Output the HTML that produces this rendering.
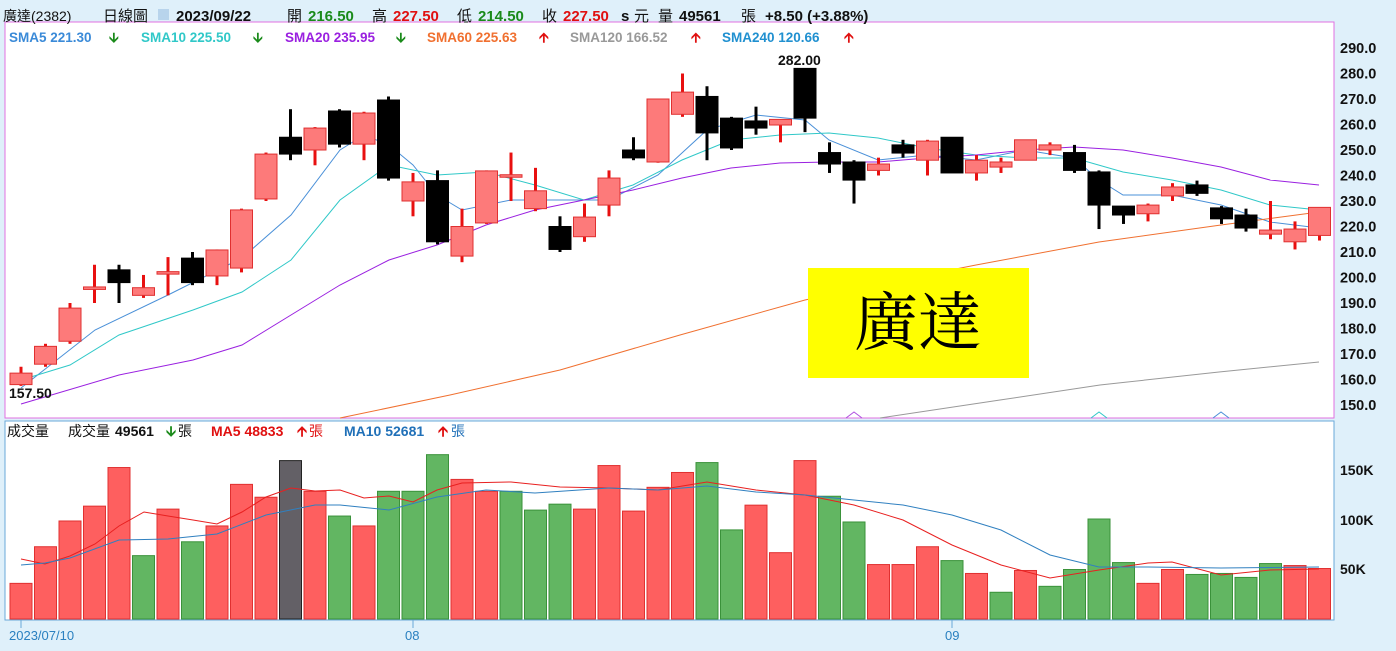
<!DOCTYPE html>
<html><head><meta charset="utf-8">
<style>
html,body{margin:0;padding:0;background:#dff0fa;width:1396px;height:651px;overflow:hidden}
svg{display:block}
text{font-family:"Liberation Sans","Noto Sans CJK TC",sans-serif}
</style></head><body>
<svg id="s" width="1396" height="651" xmlns="http://www.w3.org/2000/svg">
<rect x="0" y="0" width="1396" height="651" fill="#dff0fa"/>
<rect x="5" y="22" width="1329" height="396" fill="#fff" stroke="#e070e0" stroke-width="1"/>
<rect x="5" y="421" width="1329" height="199" fill="#fff" stroke="#6aa8d8" stroke-width="1"/>
<g font-size="15" font-weight="bold">
<text x="3" y="21" font-weight="normal" font-size="14" fill="#111">廣達(2382)</text>
<text x="103" y="21" font-weight="normal" font-size="15" fill="#111">日線圖</text>
<rect x="158" y="9" width="11" height="11" fill="#b8d4ec"/>
<text x="176" y="21" fill="#111">2023/09/22</text>
<text x="287" y="21" font-weight="normal" fill="#111">開</text><text x="308" y="21" fill="#1a8a1a">216.50</text>
<text x="372" y="21" font-weight="normal" fill="#111">高</text><text x="393" y="21" fill="#e01010">227.50</text>
<text x="457" y="21" font-weight="normal" fill="#111">低</text><text x="478" y="21" fill="#1a8a1a">214.50</text>
<text x="542" y="21" font-weight="normal" fill="#111">收</text><text x="563" y="21" fill="#e01010">227.50</text>
<text x="621" y="21" fill="#111">s</text><text x="634" y="21" font-weight="normal" fill="#111">元</text>
<text x="658" y="21" font-weight="normal" fill="#111">量</text><text x="679" y="21" fill="#111">49561</text>
<text x="741" y="21" font-weight="normal" fill="#111">張</text><text x="765" y="21" fill="#111">+8.50 (+3.88%)</text>
</g>
<g font-size="13.5" font-weight="bold">
<text x="9" y="42" fill="#3a8ad8">SMA5 221.30</text><text x="109" y="42" fill="#1a8a1a">🡫</text>
<text x="141" y="42" fill="#30c8c8">SMA10 225.50</text><text x="253" y="42" fill="#1a8a1a">🡫</text>
<text x="285" y="42" fill="#9a20e0">SMA20 235.95</text><text x="396" y="42" fill="#1a8a1a">🡫</text>
<text x="427" y="42" fill="#f07030">SMA60 225.63</text><text x="539" y="42" fill="#e01010">🡩</text>
<text x="570" y="42" fill="#999">SMA120 166.52</text><text x="691" y="42" fill="#e01010">🡩</text>
<text x="722" y="42" fill="#2090d0">SMA240 120.66</text><text x="844" y="42" fill="#e01010">🡩</text>
</g>
<g font-size="14" font-weight="bold">
<text x="7" y="436" font-weight="normal" fill="#111">成交量</text>
<text x="68" y="436" font-weight="normal" fill="#111">成交量</text><text x="115" y="436" fill="#111">49561</text><text x="166" y="436" fill="#1a8a1a">🡫</text><text x="178" y="436" font-weight="normal" fill="#111">張</text>
<text x="211" y="436" fill="#e01010">MA5 48833</text><text x="297" y="436" fill="#e01010">🡩</text><text x="309" y="436" font-weight="normal" fill="#e01010">張</text>
<text x="344" y="436" fill="#2070b8">MA10 52681</text><text x="438" y="436" fill="#e01010">🡩</text><text x="451" y="436" font-weight="normal" fill="#2070b8">張</text>
</g>
<g font-size="14.5" font-weight="bold" fill="#111" id="ax"></g>
<g font-size="14" font-weight="bold" fill="#111">
<text x="1340" y="475">150K</text><text x="1340" y="525">100K</text><text x="1340" y="574">50K</text>
</g>
<g stroke="#6aa8d8"><line x1="21" y1="620" x2="21" y2="628"/><line x1="413" y1="620" x2="413" y2="628"/><line x1="952" y1="620" x2="952" y2="628"/></g>
<g font-size="13" fill="#2a80c0"><text x="9" y="640">2023/07/10</text><text x="405" y="640">08</text><text x="945" y="640">09</text></g>
<g id="vol"></g><g id="ln"></g><g id="cdl"></g>
<rect x="808" y="268" width="221" height="110" fill="#ffff00"/>
<text x="918" y="345" text-anchor="middle" font-size="64" fill="#000" style="font-family:'Noto Serif CJK SC','Liberation Serif',serif">廣達</text>
<text x="778" y="65" font-size="14" font-weight="bold" fill="#111">282.00</text>
<text x="9" y="398" font-size="14" font-weight="bold" fill="#111">157.50</text>
</svg>
<script>
(function(){
var NS="http://www.w3.org/2000/svg";
function el(p,t,a){var e=document.createElementNS(NS,t);for(var k in a)e.setAttribute(k,a[k]);document.getElementById(p).appendChild(e);return e;}
for(var v=290;v>=150;v-=10){var t=el("ax","text",{x:1340,y:405-(v-150)*2.55+5});t.textContent=v+".0";}
function Y(p){return 405-(p-150)*2.55;}
var C=[[158,162.5,165,157.5],[166,173,174,165],[175,188,190,174],[196,196.3,205,190],[203,198,205,190],[193,196,201,192],[202,202.3,208,193],[207.6,198,210,197],[200.6,210.8,211,197],[203.7,226.5,227,202],[230.8,248.4,249,230],[255,248.4,266,246],[250,258.6,259,244],[265.3,252.3,266,251],[252.3,264.5,265,246],[269.6,239,271,238],[230,237.5,241,224],[238,214,242,213],[208.4,220,227,206],[221.4,241.8,242,221],[240,240.3,249,230],[227,234,243,226],[220,211,224,210],[216,223.7,229,214],[228.4,239,242,224],[250,246.9,255,246],[245.3,270,270,245],[264,272.7,280,263],[271,256.7,275,246],[262.5,250.8,263,250],[261.4,258.6,267,256],[259.8,262,262,253],[282,262.5,282,257],[249,244.5,253,241],[245.3,238.2,246,229],[242,244.5,247,240],[252,248.8,254,247],[246,253.5,254,240],[255,241,255,241],[241,246,248,238],[243.3,245.3,247,241],[246,254,254,246],[250,252,253,248],[249,242,252,241],[241.4,228.4,242,219],[228,224.5,228,221],[225,228.4,229,222],[232,235.5,237,230],[236.3,233,238,232],[227.3,223,228,221],[224.5,219.4,227,218],[217,218.6,230,215],[214,219,222,211],[216.5,227.5,227.5,214.5]];
var V=[[36,'r'],[73,'r'],[99,'r'],[114,'r'],[153,'r'],[64,'g'],[111,'r'],[78,'g'],[94,'r'],[136,'r'],[123,'r'],[160,'k'],[129,'r'],[104,'g'],[94,'r'],[129,'g'],[129,'g'],[166,'g'],[141,'r'],[129,'r'],[129,'g'],[110,'g'],[116,'g'],[111,'r'],[155,'r'],[109,'r'],[133,'r'],[148,'r'],[158,'g'],[90,'g'],[115,'r'],[67,'r'],[160,'r'],[124,'g'],[98,'g'],[55,'r'],[55,'r'],[73,'r'],[59,'g'],[46,'r'],[27,'g'],[49,'r'],[33,'g'],[50,'g'],[101,'g'],[57,'g'],[36,'r'],[50,'r'],[45,'g'],[46,'g'],[42,'g'],[56,'g'],[54,'r'],[51,'r']];
var col={r:['#fe5f5f','#e03030'],g:['#62b662','#3a923a'],k:['#636066','#222']};
for(var i=0;i<54;i++){var x=21+24.5*i;
 var vv=V[i],c=col[vv[1]],y=619-vv[0]*0.99;
 el("vol","rect",{x:x-11,y:y,width:22,height:619-y,fill:c[0],stroke:c[1],"stroke-width":1});
 var d=C[i],up=d[1]>=d[0],hi=Math.max(d[0],d[1]),lo=Math.min(d[0],d[1]);
 var wc=up?'#e81010':'#000';
 el("cdl","line",{x1:x,y1:Y(d[2]),x2:x,y2:Y(d[3]),stroke:wc,"stroke-width":3});
 var h=Math.max(Y(lo)-Y(hi),2.5);
 el("cdl","rect",{x:x-11,y:Y(hi),width:22,height:h,fill:up?'#fd7a7a':'#000',stroke:up?'#e03030':'#000'});
}
function pl(pts,c){el("ln","polyline",{points:pts,fill:"none",stroke:c,"stroke-width":1});}
pl("21,388 95,330 168,295 242,258 291,215 340,150 364,135 389,145 413,165 437,195 462,210 511,200 560,200 609,200 658,175 707,130 756,115 805,120 829,140 878,160 927,155 976,160 1025,150 1074,158 1099,180 1123,195 1172,195 1221,205 1270,222 1319,228","#4a90d8");
pl("21,380 70,365 119,335 193,310 242,292 291,260 340,200 389,165 437,175 486,172 535,185 584,200 633,185 682,160 731,140 780,135 829,133 878,138 927,148 976,155 1025,158 1074,158 1123,172 1172,180 1221,190 1270,205 1319,210","#30c8c8");
pl("21,404 119,375 193,360 242,345 291,315 340,285 389,260 437,245 486,225 535,210 584,200 633,190 682,178 731,168 780,163 829,162 878,162 927,158 976,155 1025,150 1074,147 1123,150 1172,158 1221,167 1270,180 1319,185","#9a20e0");
pl("340,418 450,395 560,370 680,335 805,300 900,280 976,265 1099,242 1221,225 1319,212","#f07030");
pl("880,418 1000,400 1100,385 1219,372 1319,362","#999");
pl("846,418 854,412 862,418","#b050e0");pl("1091,418 1099,412 1107,418","#30c8c8");pl("1213,418 1221,412 1229,418","#4a90d8");
pl("21,559 45,564 70,556 95,544 119,526 144,512 168,516 193,520 217,524 242,512 266,497 291,488 315,491 340,490 364,498 389,496 413,502 437,490 462,483 511,482 560,487 609,488 658,490 707,482 756,490 805,495 854,505 903,520 952,545 1001,565 1050,578 1099,570 1148,563 1172,562 1221,575 1270,570 1319,569","#e82020");
pl("21,565 45,563 70,558 119,540 168,539 217,534 266,515 315,505 340,505 389,510 437,497 486,490 535,493 609,488 658,490 707,486 756,492 805,495 854,500 903,505 952,515 1001,530 1050,555 1099,567 1148,567 1221,568 1319,567","#3080c0");
})();
</script>
</body></html>
